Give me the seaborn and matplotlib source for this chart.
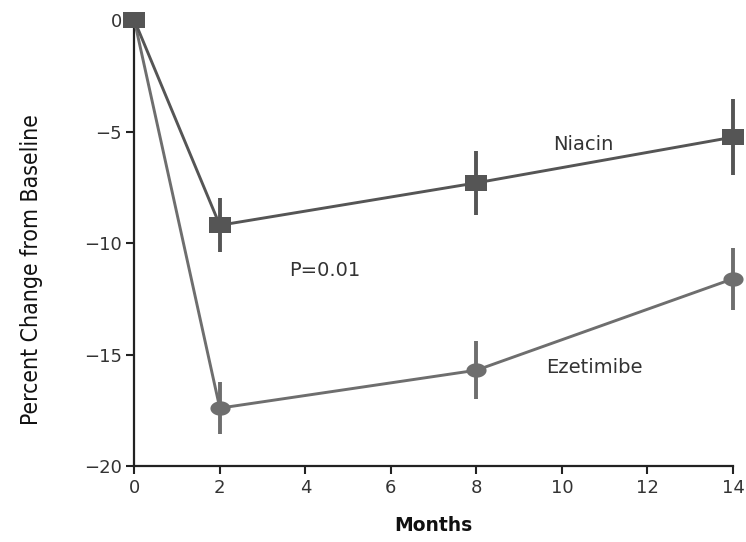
import numpy as np
import pandas as pd
import matplotlib
matplotlib.use("Agg")
import matplotlib.pyplot as plt
import seaborn as sns
from matplotlib.path import Path

months = [0, 2, 8, 14]
niacin = [0.0, -9.2, -7.3, -5.25]
niacin_err = [0.0, 1.2, 1.45, 1.7]
ezetimibe = [0.0, -17.4, -15.7, -11.6]
ezetimibe_err = [0.0, 1.15, 1.3, 1.4]
x_ticks = [0, 2, 4, 6, 8, 10, 12, 14]
y_ticks = [0, -5, -10, -15, -20]

sns.set_theme(style="ticks")
plt.rcParams["font.family"] = ["DejaVu Sans"]

df = pd.DataFrame({
    "Months": months * 2,
    "Change": niacin + ezetimibe,
    "Group": ["Niacin"] * 4 + ["Ezetimibe"] * 4,
})

# wide rectangle / ellipse markers
sq = Path([(-1.4, -1), (1.4, -1), (1.4, 1), (-1.4, 1), (-1.4, -1)],
          [Path.MOVETO, Path.LINETO, Path.LINETO, Path.LINETO, Path.CLOSEPOLY])
t = np.linspace(0, 2 * np.pi, 60)
ell = Path(np.column_stack([1.4 * np.cos(t), np.sin(t)]))

c_nia = "#555555"
c_eze = "#6e6e6e"

fig = plt.figure(figsize=(7.46, 5.42), dpi=100)
ax = fig.add_axes([0.18, 0.14, 0.8026, 0.823])

sns.lineplot(data=df[df.Group == "Ezetimibe"], x="Months", y="Change", ax=ax,
             color=c_eze, lw=2.1, marker=ell, markersize=14.5, markeredgewidth=0,
             legend=False, clip_on=False, zorder=3)
ax.errorbar(months[1:], ezetimibe[1:], yerr=ezetimibe_err[1:], fmt="none",
            ecolor=c_eze, elinewidth=2.8, capsize=0, clip_on=False, zorder=3)

sns.lineplot(data=df[df.Group == "Niacin"], x="Months", y="Change", ax=ax,
             color=c_nia, lw=2.1, marker=sq, markersize=16.5, markeredgewidth=0,
             legend=False, clip_on=False, zorder=4)
ax.errorbar(months[1:], niacin[1:], yerr=niacin_err[1:], fmt="none",
            ecolor=c_nia, elinewidth=2.8, capsize=0, clip_on=False, zorder=4)

ax.set_xlim(0, 14)
ax.set_ylim(-20, 0)
ax.set_xticks(x_ticks)
ax.set_yticks(y_ticks)
ax.set_xticklabels([str(v) for v in x_ticks])
ax.set_yticklabels([str(v).replace("-", "\u2212") for v in y_ticks])
ax.tick_params(axis="both", labelsize=13, length=6, width=1.5, color="#222222",
               labelcolor="#333333", direction="out", pad=3)

sns.despine(ax=ax)
for s in ["left", "bottom"]:
    ax.spines[s].set_linewidth(1.6)
    ax.spines[s].set_color("#222222")

ax.set_xlabel("Months", fontsize=13.5, fontweight="bold", labelpad=14, color="#111111")
ax.set_ylabel("Percent Change from Baseline", fontsize=16.5,
              color="#111111", fontstretch="condensed", fontweight="medium")
ax.yaxis.set_label_coords(-0.152, 0.44)

ax.text(10.5, -5.6, "Niacin", fontsize=14, color="#333333", ha="center", va="center")
ax.text(10.75, -15.6, "Ezetimibe", fontsize=14, color="#333333", ha="center", va="center")
ax.text(4.45, -11.25, "P=0.01", fontsize=14, color="#333333", ha="center", va="center")

fig.savefig("out.png", dpi=100)
